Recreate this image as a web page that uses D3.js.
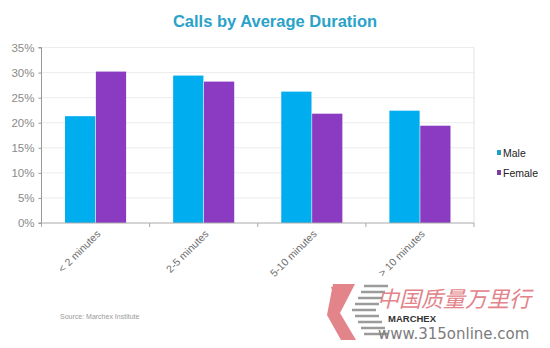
<!DOCTYPE html>
<html>
<head>
<meta charset="utf-8">
<script src="https://cdn.jsdelivr.net/npm/d3@7"></script>
<style>
  body { margin: 0; background: #fff; }
  svg { display: block; font-family: "Liberation Sans", Arial, sans-serif; }
</style>
</head>
<body>
<div id="chart"></div>
<script>
// chart data
const categories = ['< 2 minutes', '2-5 minutes', '5-10 minutes', '> 10 minutes'];
const seriesNames = ['Male', 'Female'];
const maleValues = [21.3, 29.4, 26.2, 22.4];
const femaleValues = [30.2, 28.2, 21.8, 19.4];
const yTicks = [0, 5, 10, 15, 20, 25, 30, 35];

const colors = { Male: '#00adef', Female: '#8a3bc2' };
const legendColors = { Male: '#1f9fc6', Female: '#7a3fa0' };

const width = 550, height = 348;
const plot = { left: 41.5, right: 474, top: 47.5, bottom: 223 };

const svg = d3.select('#chart').append('svg')
  .attr('width', width)
  .attr('height', height);

// scales
const x0 = d3.scaleBand()
  .domain(categories)
  .range([plot.left, plot.right])
  .paddingInner(0.435)
  .paddingOuter(0.2175);

const x1 = d3.scaleBand()
  .domain(seriesNames)
  .range([0, x0.bandwidth()])
  .paddingInner(0.02);

const y = d3.scaleLinear()
  .domain([0, 35])
  .range([plot.bottom, plot.top]);

// gridlines
svg.append('g')
  .selectAll('line')
  .data(yTicks.filter(d => d > 0))
  .enter().append('line')
  .attr('x1', plot.left)
  .attr('x2', plot.right)
  .attr('y1', d => y(d))
  .attr('y2', d => y(d))
  .attr('stroke', '#ececec')
  .attr('stroke-width', 1);

// right border
svg.append('line')
  .attr('x1', plot.right).attr('x2', plot.right)
  .attr('y1', plot.top).attr('y2', plot.bottom)
  .attr('stroke', '#e2e2e2');

// bars
const rows = categories.map((c, i) => ({ cat: c, Male: maleValues[i], Female: femaleValues[i] }));

svg.append('g')
  .selectAll('g')
  .data(rows)
  .enter().append('g')
  .attr('transform', d => 'translate(' + x0(d.cat) + ',0)')
  .selectAll('rect')
  .data(d => seriesNames.map(s => ({ key: s, value: d[s] })))
  .enter().append('rect')
  .attr('x', d => x1(d.key))
  .attr('y', d => y(d.value))
  .attr('width', x1.bandwidth())
  .attr('height', d => plot.bottom - y(d.value))
  .attr('fill', d => colors[d.key]);

// y axis
const yAxis = d3.axisLeft(y)
  .tickValues(yTicks)
  .tickFormat(d => d + '%')
  .tickSize(3)
  .tickPadding(4);

const yg = svg.append('g')
  .attr('transform', 'translate(' + plot.left + ',0)')
  .call(yAxis);
yg.select('.domain').attr('stroke', '#999').attr('d', 'M-3,' + plot.top + 'H0V' + plot.bottom + 'H-3');
yg.selectAll('.tick line').attr('stroke', '#999');
yg.selectAll('.tick text')
  .attr('fill', '#8a8a8a')
  .style('font-size', '11.5px')
  .style('font-family', '"Liberation Sans", Arial, sans-serif');

// x axis with tick marks at the category boundaries
const xg = svg.append('g');
xg.append('line')
  .attr('x1', plot.left).attr('x2', plot.right)
  .attr('y1', plot.bottom).attr('y2', plot.bottom)
  .attr('stroke', '#aaa');
xg.selectAll('line.tk')
  .data(d3.range(categories.length + 1))
  .enter().append('line')
  .attr('class', 'tk')
  .attr('x1', i => plot.left + i * x0.step())
  .attr('x2', i => plot.left + i * x0.step())
  .attr('y1', plot.bottom)
  .attr('y2', plot.bottom + 4)
  .attr('stroke', '#aaa');

xg.selectAll('text')
  .data(categories)
  .enter().append('text')
  .attr('transform', d => 'translate(' + (x0(d) + x0.bandwidth() / 2 + 3) + ',' + (plot.bottom + 9) + ') rotate(-45)')
  .attr('text-anchor', 'end')
  .attr('dy', '0.35em')
  .attr('fill', '#6e6e6e')
  .style('font-size', '10.5px')
  .text(d => d);

// title
svg.append('text')
  .attr('x', 275)
  .attr('y', 27)
  .attr('text-anchor', 'middle')
  .attr('fill', '#2aa2c9')
  .style('font-size', '16.5px')
  .style('font-weight', 'bold')
  .text('Calls by Average Duration');

// legend
const legend = svg.append('g')
  .selectAll('g')
  .data(seriesNames)
  .enter().append('g')
  .attr('transform', (d, i) => 'translate(497,' + (153 + i * 20) + ')');
legend.append('rect')
  .attr('x', 0).attr('y', -3)
  .attr('width', 4).attr('height', 5)
  .attr('fill', d => legendColors[d]);
legend.append('text')
  .attr('x', 6)
  .attr('y', 0)
  .attr('dy', '0.35em')
  .attr('fill', '#222')
  .style('font-size', '10.5px')
  .text(d => d);

// source note
svg.append('text')
  .attr('x', 60)
  .attr('y', 319)
  .attr('fill', '#999')
  .style('font-size', '7px')
  .text('Source: Marchex Institute');

// watermark
const wm = svg.append('g');
wm.append('path')
  .attr('d', 'M333,284 H355 L340,313 L356,340 H341 L327,315 Z M331,287 H345 L336,303 Z')
  .attr('fill', '#e3838a');
for (let i = 0; i < 9; i++) {
  const yy = 286 + i * 6;
  const off = Math.abs(i - 4) * 3;
  wm.append('line')
    .attr('x1', 352 + off).attr('x2', 376 + off)
    .attr('y1', yy).attr('y2', yy)
    .attr('stroke', '#9b9b9b').attr('stroke-width', 2.5);
}
wm.append('text')
  .attr('x', 377).attr('y', 307)
  .attr('fill', '#e3838a')
  .style('font-family', '"Noto Sans CJK SC", sans-serif')
  .style('font-size', '22px')
  .style('font-style', 'italic')
  .text('中国质量万里行');
wm.append('text')
  .attr('x', 388).attr('y', 322)
  .attr('fill', '#333')
  .style('font-size', '9.5px')
  .style('font-weight', 'bold')
  .text('MARCHEX');
wm.append('text')
  .attr('x', 378).attr('y', 339)
  .attr('fill', '#7c7c7c')
  .style('font-size', '15px')
  .style('font-family', '"DejaVu Sans", sans-serif')
  .text('www.315online.com');
</script>
</body>
</html>
